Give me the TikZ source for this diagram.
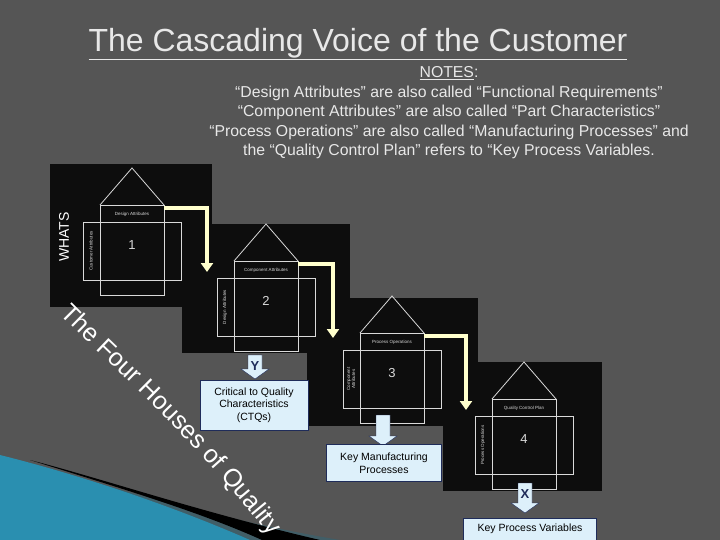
\documentclass[tikz,border=0pt]{standalone}
\usepackage{fontspec}
\setmainfont{Liberation Sans}
\usetikzlibrary{decorations.text,calc}
\definecolor{slide}{HTML}{555555}
\definecolor{notetext}{HTML}{E8E8E8}
\definecolor{pale}{HTML}{FFFFCC}
\definecolor{boxfill}{HTML}{DDF0FA}
\definecolor{boxline}{HTML}{1F2C5A}
\definecolor{teal}{HTML}{2A8FB0}
\tikzset{
  panel/.style = {fill=black!95},
  wire/.style = {draw=white!85!black, line width=0.8pt},
  tiny/.style = {font=\fontsize{4.5}{5}\selectfont, text=white!85!black},
  yarrow/.style = {draw=pale, line width=3.5pt, -{Triangle[length=9pt,width=12pt]}},
  infobox/.style = {draw=boxline, fill=boxfill, line width=0.8pt, align=center,
    font=\fontsize{10.5}{12.5}\selectfont, inner sep=3pt},
  barrow/.style = {fill=boxfill, draw=boxline, line width=0.4pt}
}
\usetikzlibrary{arrows.meta}
% one house drawing, placed at the top-left of its tall box
\newcommand{\housepic}[5]{%
  \begin{scope}[shift={(#2)}]
    \draw[wire] (0,0) -- (32,-37) -- (64,0);
    \draw[wire] (0,0) rectangle (64,90);
    \draw[wire] (-17,17) rectangle (81,75);
    \node[tiny] (#1-top) at (32,9) {#3};
    \node[tiny, rotate=90, align=center] (#1-side) at (-9,46) {#4};
    \node[text=white!85!black, font=\fontsize{13}{13}\selectfont] (#1-num) at (32,40) {#5};
    \coordinate (#1-tr) at (64,3);
  \end{scope}}
\newcommand{\bluedown}[4]{%
  \draw[barrow] (#1-7,#2) -- (#1+7,#2) -- (#1+7,#3-10) -- (#1+14,#3-10)
    -- (#1,#3) -- (#1-14,#3-10) -- (#1-7,#3-10) -- cycle;
  \node[font=\bfseries\fontsize{13}{13}\selectfont, text=boxline] at (#1,#2+11) {#4};}
\begin{document}
\begin{tikzpicture}[x=1pt,y=-1pt]
  \fill[slide] (0,0) rectangle (720,540);
  \useasboundingbox (0,0) rectangle (720,540);
  % swoosh
  \fill[gray!60!teal!70!black] (30,463) .. controls (150,500) and (250,525) .. (340,540) -- (240,540) -- cycle;
  \fill[black] (30,460) .. controls (120,488) and (200,512) .. (262,540) -- (320,540) .. controls (200,512) and (100,478) .. (30,460);
  \fill[teal] (0,455) .. controls (80,475) and (170,505) .. (250,540) -- (0,540) -- cycle;
  % title and notes
  \node[text=notetext, font=\fontsize{32}{35}\selectfont] (title) at (358,44)
    {\underline{The Cascading Voice of the Customer}};
  \node[text=notetext, font=\fontsize{15.8}{19.5}\selectfont, align=center] (notes) at (449,113)
    {\underline{NOTES}:\\
     “Design Attributes” are also called “Functional Requirements”\\
     “Component Attributes” are also called “Part Characteristics”\\
     “Process Operations” are also called “Manufacturing Processes” and\\
     the “Quality Control Plan” refers to “Key Process Variables.};
  % black panels
  \fill[panel] (50,164) rectangle (212,307);
  \fill[panel] (182,224) rectangle (350,353);
  \fill[panel] (307,298) rectangle (478,426);
  \fill[panel] (443,362) rectangle (602,491);
  \node[text=white, rotate=90, font=\fontsize{14}{14}\selectfont] (whats) at (64,237) {WHATS};
  % houses
  \housepic{h1}{100,205}{Design Attributes}{Customer Attributes}{1}
  \housepic{h2}{234,261}{Component Attributes}{Design Attributes}{2}
  \housepic{h3}{360,333}{Process Operations}{Component\\Attributes}{3}
  \housepic{h4}{492,399}{Quality Control Plan}{Process Operations}{4}
  % cascade arrows
  \coordinate (in2) at (207,272);
  \coordinate (in3) at (333,338);
  \coordinate (in4) at (466,410);
  \draw[yarrow] (h1-tr) -| (in2);
  \draw[yarrow] (h2-tr) -| (in3);
  \draw[yarrow] (h3-tr) -| (in4);
  % outputs
  \bluedown{255}{355}{379}{Y}
  \node[infobox, minimum width=108pt, minimum height=50pt] (ctq) at (254,405)
    {Critical to Quality\\Characteristics\\(CTQs)};
  \bluedown{383}{415}{446}{}
  \node[infobox, minimum width=115pt, minimum height=37pt] (kmp) at (384,463)
    {Key Manufacturing\\Processes};
  \bluedown{525}{483}{513}{X}
  \node[infobox, minimum width=133pt, minimum height=22pt] (kpv) at (530,529)
    {Key Process Variables};
  % the four houses
  \path[decorate, decoration={text along path, text align=left,
      text={|\fontsize{25}{25}\selectfont\color{white}|The Four Houses of Quality}}]
    (60,314) .. controls (115,370) and (200,440) .. (300,575);
\end{tikzpicture}
\end{document}
